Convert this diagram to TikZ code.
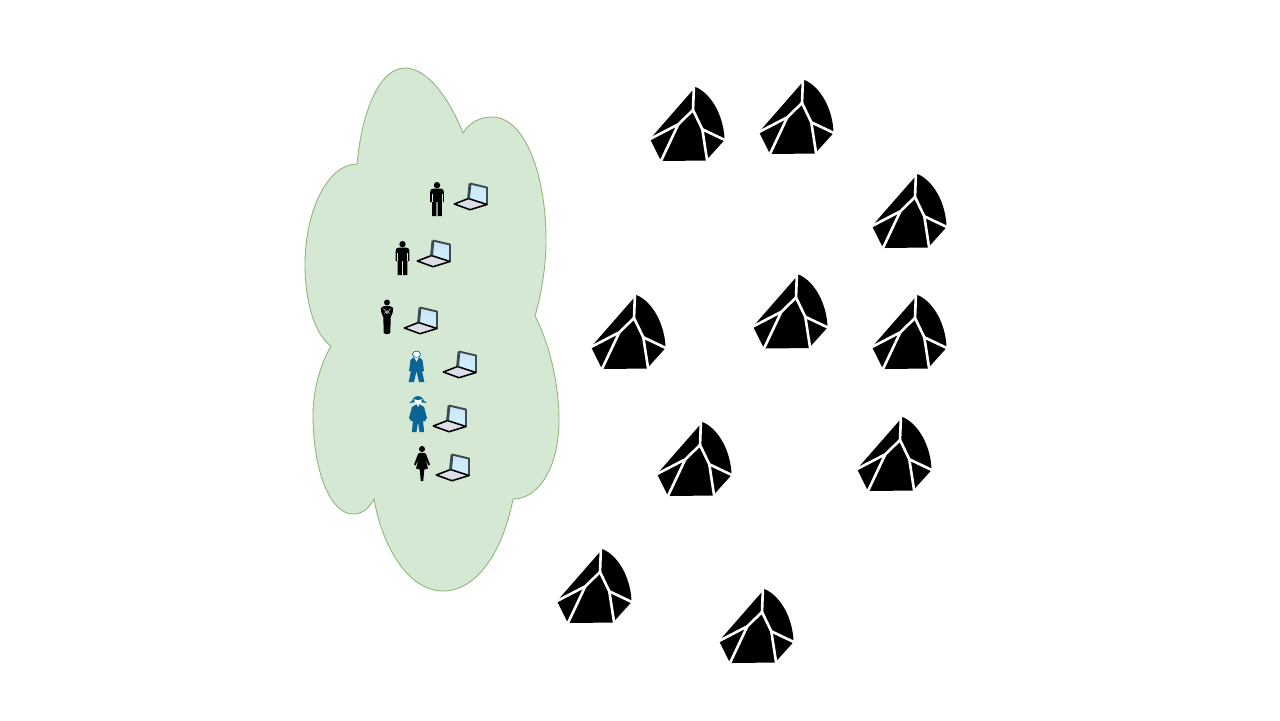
\documentclass[tikz,border=0pt]{standalone}
\definecolor{cloudfill}{HTML}{D5E8D4}
\definecolor{cloudline}{HTML}{8FB57A}
\definecolor{suitblue}{HTML}{0B6496}
\definecolor{screenblue}{HTML}{BBDCF0}
\definecolor{framegrey}{HTML}{3E4A54}
\definecolor{basegrey}{HTML}{DCDEE8}
\tikzset{
  x=0.01cm, y=-0.01cm,
  cloudshape/.style={fill=cloudfill, draw=cloudline, line width=0.25pt},
  crack/.style={draw=white, line width=0.75pt, line join=round},
  pics/crystal/.style={code={
    \fill[black] (0.5,0) .. controls (17,7) and (29,30) .. (29.5,53)
      -- (11,73.5) -- (-34,74) -- (-45,52) -- cycle;
    \draw[crack] (-1,-3) -- (-2,23);
    \draw[crack] (-47,53) -- (-16.7,37.3) -- (-2,23) -- (7.3,42.3) -- (12.5,76);
    \draw[crack] (-16.7,37.3) -- (-35,76);
    \draw[crack] (7.3,42.3) -- (32,54);
  }},
  pics/laptop/.style={code={
    \shade[left color=screenblue!75, right color=screenblue!110!black, shading angle=0]
      (16,0.5) -- (33,4.5) -- (33,21.5) -- (14.5,16.5) -- cycle;
    \draw[framegrey, line width=0.55pt, line join=round]
      (16,0.5) -- (33,4.5) -- (33,21.5);
    \filldraw[fill=basegrey, draw=black, line width=0.45pt, line join=round]
      (14.5,15.5) -- (0.3,21) -- (16,26.7) -- (33,21.5) -- cycle;
    \draw[framegrey, line width=0.8pt] (16,0.5) -- (14.5,15.5);
  }},
  pics/manfig/.style={code={
    \fill[black] (0,3.2) circle[radius=3.2];
    \fill[black] (-3.5,6.5) -- (3.5,6.5) .. controls (5.5,6.5) and (6.9,7.5) .. (6.9,10)
      -- (6.9,20) -- (4.8,20) -- (4.8,34) -- (0.6,34) -- (0.6,20) -- (-0.6,20)
      -- (-0.6,34) -- (-4.8,34) -- (-4.8,20) -- (-6.9,20) -- (-6.9,10)
      .. controls (-6.9,7.5) and (-5.5,6.5) .. (-3.5,6.5) -- cycle;
    \draw[cloudfill, line width=0.08pt] (-4.9,12) -- (-4.9,20) (4.9,12) -- (4.9,20);
  }},
  pics/robedfig/.style={code={
    \fill[black] (0,3) circle[radius=3];
    \fill[black] (-3,6.5) -- (3,6.5) -- (6.2,8.5) -- (5.7,13) -- (3.6,18) -- (3.4,33)
      .. controls (2.7,35.3) and (-2.7,35.3) .. (-3.4,33) -- (-3.6,18) -- (-5.7,13) -- (-6.2,8.5) -- cycle;
    \draw[white, line width=0.12pt] (-3.5,9) -- (0,14) -- (3.5,9) (-2.5,14) -- (0,11) -- (2.5,14);
  }},
  pics/suitfig/.style={code={
    \fill[suitblue] (-3.5,6.5) -- (3.5,6.5) -- (6,9) -- (7.5,20) -- (5.6,20.5) -- (7.9,31) -- (2.5,31)
      -- (0,20) -- (-2.5,31) -- (-7.9,31) -- (-5.6,20.5) -- (-7.5,20) -- (-6,9) -- cycle;
    \filldraw[fill=white, draw=suitblue, line width=0.2pt] (0,3.3) ellipse[x radius=4, y radius=3.2];
    \fill[white] (-2.2,6.5) -- (2.2,6.5) -- (0,10.5) -- cycle;
  }},
  pics/hatfig/.style={code={
    \fill[suitblue] (-9,7) .. controls (-6,5.5) and (-5,4) .. (-4.5,2) .. controls (-2,-0.5) and (2,-0.5) .. (4.5,2)
      .. controls (5,4) and (6,5.5) .. (9,7) .. controls (5,6) and (-5,6) .. (-9,7) -- cycle;
    \fill[white] (-3.8,3) .. controls (-2,4.5) and (2,4.5) .. (3.8,3) .. controls (3.8,7) and (2,9) .. (0,9)
      .. controls (-2,9) and (-3.8,7) .. (-3.8,3) -- cycle;
    \fill[suitblue] (-3.5,9.5) -- (-1.5,8.3) -- (0,11.5) -- (1.5,8.3) -- (3.5,9.5) -- (6,11) -- (9,22) -- (7.5,23.5)
      -- (7.5,25) -- (5,25) -- (6.2,36) -- (1.5,36) -- (0,26) -- (-1.5,36) -- (-6.2,36) -- (-5,25) -- (-7.5,25)
      -- (-7.5,23.5) -- (-9,22) -- (-6,11) -- cycle;
  }},
  pics/dressfig/.style={code={
    \fill[black] (0,3) circle[radius=3];
    \fill[black] (-2.5,6.8) -- (2.5,6.8) -- (4,8) -- (8,18.5) -- (6.5,19.5) -- (3.5,13) -- (6,22.5)
      -- (2.3,23.5) -- (1.2,35) -- (-1.2,35) -- (-2.3,23.5) -- (-6,22.5) -- (-3.5,13) -- (-6.5,19.5)
      -- (-8,18.5) -- (-4,8) -- cycle;
  }}
}
\begin{document}
\begin{tikzpicture}
\useasboundingbox (0,0) rectangle (1280,720);
\path[cloudshape] (357,164) .. controls (362,110) and (380,68) .. (405,68)
  .. controls (428,68) and (450,100) .. (463,133)
  .. controls (470,122) and (480,117) .. (492,117)
  .. controls (525,117) and (546,175) .. (546,240)
  .. controls (546,268) and (541,295) .. (535,316)
  .. controls (550,345) and (559,385) .. (559,420)
  .. controls (559,465) and (540,499) .. (513,499)
  .. controls (502,555) and (475,591) .. (443,591)
  .. controls (410,591) and (383,550) .. (374,499)
  .. controls (368,510) and (361,514) .. (353,514)
  .. controls (330,514) and (313,470) .. (313,415)
  .. controls (313,390) and (320,365) .. (331,346)
  .. controls (315,335) and (305,302) .. (305,265)
  .. controls (305,210) and (328,164) .. (357,164) -- cycle;
\pic (u1) at (437,182) {manfig};
\pic (u2) at (402.5,241) {manfig};
\pic (u3) at (387,299.5) {robedfig};
\pic (u4) at (416.5,351) {suitfig};
\pic (u5) at (418,396) {hatfig};
\pic (u6) at (422,446) {dressfig};
\pic (l1) at (454,183) {laptop};
\pic (l2) at (417,240) {laptop};
\pic (l3) at (404,307) {laptop};
\pic (l4) at (443,351) {laptop};
\pic (l5) at (433,405) {laptop};
\pic (l6) at (436,454) {laptop};
\pic (c1) at (695,87) {crystal};
\pic (c2) at (804,80) {crystal};
\pic (c3) at (917,174) {crystal};
\pic (c4) at (636,295) {crystal};
\pic (c5) at (798,274.5) {crystal};
\pic (c6) at (917,295) {crystal};
\pic (c7) at (702,422) {crystal};
\pic (c8) at (902,417) {crystal};
\pic (c9) at (602,549) {crystal};
\pic (c10) at (764,589) {crystal};
\end{tikzpicture}
\end{document}
